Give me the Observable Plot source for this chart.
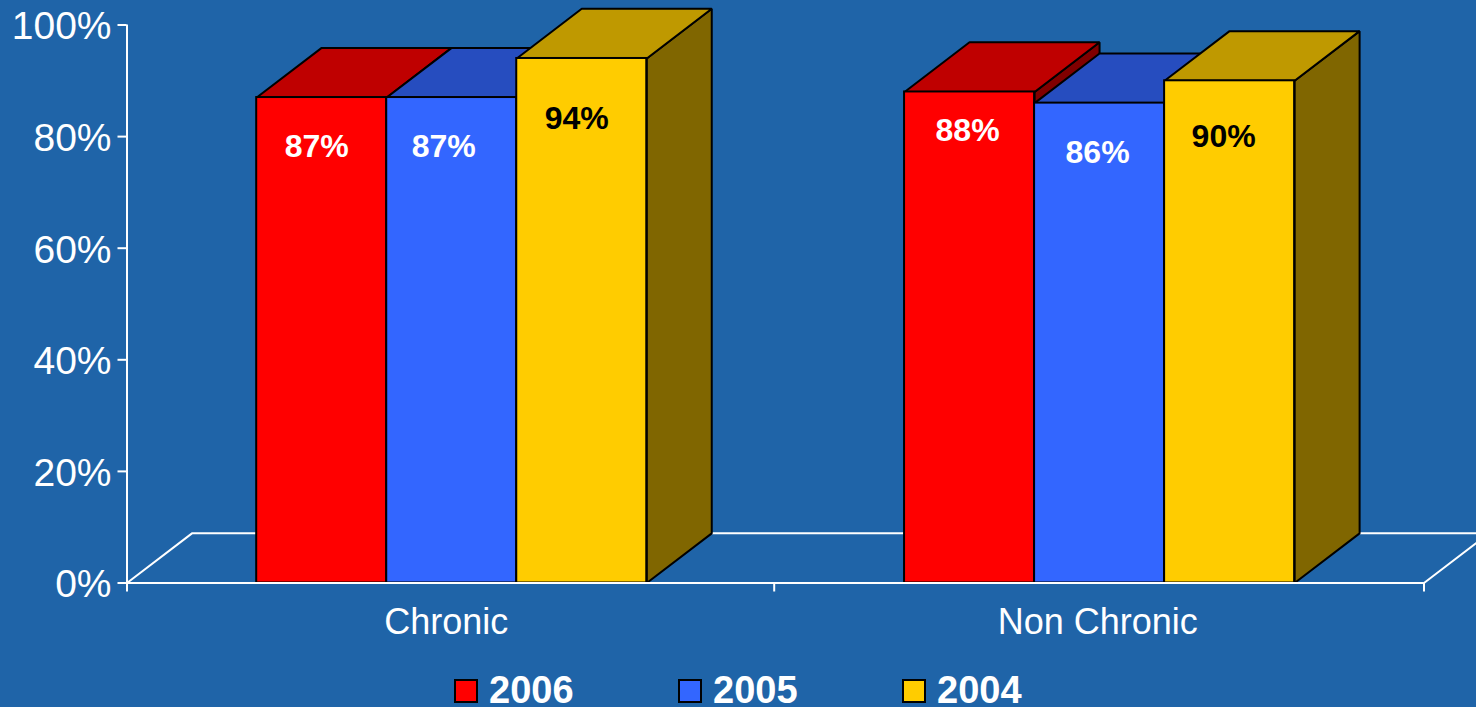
<!DOCTYPE html>
<html>
<head>
<meta charset="utf-8">
<script src="https://cdn.jsdelivr.net/npm/d3@7"></script>
<script src="https://cdn.jsdelivr.net/npm/@observablehq/plot@0.6"></script>
<style>
  html, body { margin: 0; padding: 0; width: 1476px; height: 707px; overflow: hidden; background: #1f64a8; }
  #chart svg { display: block; background: transparent; }
  #legend { position: absolute; left: 454px; top: 660px; display: flex; font: bold 38px "Liberation Sans", Arial, sans-serif; color: #fff; }
  #legend .item { width: 224px; display: flex; align-items: flex-start; }
  #legend .swatch { width: 20px; height: 20px; border: 2px solid #000; margin-top: 19px; margin-right: 11px; flex: none; }
  #legend .name { height: 30px; line-height: 30px; margin-top: 15px; }
</style>
</head>
<body>
<div id="chart"></div>
<div id="legend"></div>
<script>
// Share of patients per condition group and year
const categories = ["Chronic", "Non Chronic"];
const years = ["2006", "2005", "2004"];
const values2006 = [87, 88];
const values2005 = [87, 86];
const values2004 = [94, 90];
const seriesValues = [values2006, values2005, values2004];
const yTicks = [0, 20, 40, 60, 80, 100];
const xTicks = [0, 0.998, 2];

// Face colours per year: front, top, side
const frontColors = ["#ff0000", "#3366ff", "#ffcc00"];
const topColors = ["#bf0000", "#264dbf", "#bf9900"];
const sideColors = ["#800000", "#1a3380", "#806600"];
const labelColors = ["#fff", "#fff", "#000"];

// Oblique depth of the pseudo-3D boxes, in scale units
const depthX = 0.1002;
const depthY = 8.9;
const groupStart = [0.2, 0.199];
const barWidth = 0.2005;

// Value label nudges in pixels, per category then per year
const labelDx = [[-5, -8, -5], [-2, -2, -6]];
const labelDy = [[49, 49, 60], [38.5, 50, 56]];
const categoryDx = [-5, -2];

const bars = categories.flatMap((category, c) =>
  years.map((year, s) => ({
    category, c, s, year,
    value: seriesValues[s][c],
    x1: c + groupStart[c] + s * barWidth,
    x2: c + groupStart[c] + (s + 1) * barWidth
  }))
);

const topFace = (b) => [
  [b.x1, b.value], [b.x2, b.value],
  [b.x2 + depthX, b.value + depthY], [b.x1 + depthX, b.value + depthY]
];
const sideFace = (b) => [
  [b.x2, 0], [b.x2, b.value],
  [b.x2 + depthX, b.value + depthY], [b.x2 + depthX, depthY]
];
const face = (points, fill) =>
  Plot.line(points, {x: "0", y: "1", fill, stroke: "#000", strokeWidth: 2, curve: "linear-closed", strokeLinejoin: "miter"});

// Each box is painted left to right so later boxes overlap earlier ones
const boxMarks = bars.flatMap((b) => [
  face(sideFace(b), sideColors[b.s]),
  face(topFace(b), topColors[b.s]),
  Plot.rect([b], {x1: "x1", x2: "x2", y1: 0, y2: "value", fill: frontColors[b.s], stroke: "#000", strokeWidth: 2})
]);

const labelMarks = bars.map((b) =>
  Plot.text([b], {
    x: (d) => (d.x1 + d.x2) / 2,
    y: "value",
    text: (d) => d.value + "%",
    dx: labelDx[b.c][b.s],
    dy: labelDy[b.c][b.s],
    fill: labelColors[b.s],
    fontSize: 32,
    fontWeight: "bold"
  })
);

const categoryMarks = categories.map((name, i) =>
  Plot.text([name], {
    x: () => i + 0.5,
    y: () => 0,
    text: (d) => d,
    dx: categoryDx[i],
    dy: 39,
    fill: "#fff",
    fontSize: 36
  })
);

const chart = Plot.plot({
  width: 1476,
  height: 660,
  marginTop: 24.5,
  marginBottom: 77.5,
  marginLeft: 126.5,
  marginRight: 52.5,
  style: {background: "transparent", fontFamily: "'Liberation Sans', Arial, sans-serif", overflow: "hidden"},
  x: {domain: [0, 2], axis: null},
  y: {domain: [0, 100], axis: null},
  marks: [
    // Chart floor behind the boxes
    Plot.line([[0, 0], [depthX, depthY], [2 + depthX, depthY], [2, 0]], {x: "0", y: "1", stroke: "#fff", strokeWidth: 2}),
    ...boxMarks,
    Plot.ruleX([0], {y1: 0, y2: 100, stroke: "#fff", strokeWidth: 2}),
    Plot.ruleY([0], {x1: 0, x2: 2, stroke: "#fff", strokeWidth: 2}),
    Plot.axisY({ticks: yTicks, tickFormat: () => "", tickSize: 9, stroke: "#fff", strokeOpacity: 1, strokeWidth: 2, label: null}),
    Plot.text(yTicks, {
      x: () => 0,
      y: (d) => d,
      text: (d) => d + "%",
      textAnchor: "end",
      dx: -15.5,
      dy: 2,
      fill: "#fff",
      fontSize: 39
    }),
    Plot.axisX({ticks: xTicks, tickFormat: () => "", tickSize: 9, stroke: "#fff", strokeOpacity: 1, strokeWidth: 2, label: null}),
    ...categoryMarks,
    ...labelMarks
  ]
});
document.getElementById("chart").append(chart);

// Year legend under the chart
const legend = d3.select("#legend");
years.forEach((year, s) => {
  const item = legend.append("div").attr("class", "item");
  item.append("span").attr("class", "swatch").style("background", frontColors[s]);
  item.append("span").attr("class", "name").text(year);
});
</script>
</body>
</html>
